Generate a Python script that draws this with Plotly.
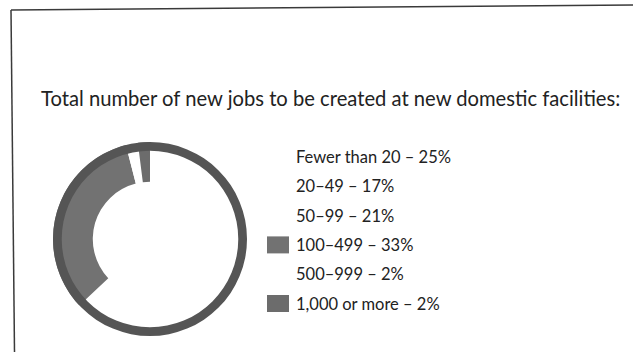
import plotly.graph_objects as go

# Survey breakdown: total number of new jobs at new domestic facilities
categories = ["Fewer than 20", "20–49", "50–99", "100–499", "500–999", "1,000 or more"]
shares = [25, 17, 21, 33, 2, 2]
colors = ["#ffffff", "#ffffff", "#ffffff", "#727272", "#ffffff", "#6c6c6c"]
title_text = "Total number of new jobs to be created at new domestic facilities:"

W, H = 633, 352
FONT = "Lato"
INK = "#222222"

# donut geometry in pixels
cx, cy, r = 150, 239, 97
dom_x = [(cx - r) / W, (cx + r) / W]
dom_y = [(H - cy - r) / H, (H - cy + r) / H]

fig = go.Figure()

fig.add_trace(go.Pie(
    values=shares,
    labels=categories,
    marker=dict(colors=colors, line=dict(width=0)),
    hole=0.59,
    sort=False,
    direction="clockwise",
    rotation=0,
    textinfo="none",
    showlegend=False,
    domain=dict(x=dom_x, y=dom_y),
))

# dark outer rim around the whole donut
fig.add_trace(go.Pie(
    values=[sum(shares)],
    labels=["total"],
    marker=dict(colors=["#555555"], line=dict(width=0)),
    hole=0.91,
    sort=False,
    textinfo="none",
    hoverinfo="skip",
    showlegend=False,
    domain=dict(x=dom_x, y=dom_y),
))

shapes = []
annotations = []

# hand-built legend: swatch + "label – value%"
row0, row_gap = 157, 29.3
for i, (cat, val, col) in enumerate(zip(categories, shares, colors)):
    yc = row0 + i * row_gap
    shapes.append(dict(
        type="rect", xref="paper", yref="paper",
        x0=267 / W, x1=289 / W,
        y0=1 - (yc + 8.5) / H, y1=1 - (yc - 8.5) / H,
        fillcolor=col, line=dict(width=0), layer="above",
    ))
    annotations.append(dict(
        text=f"{cat} – {val}%",
        xref="paper", yref="paper",
        x=294 / W, y=1 - yc / H,
        xanchor="left", yanchor="middle",
        showarrow=False,
        font=dict(family=FONT, size=16.5, color=INK),
    ))

annotations.append(dict(
    text=title_text,
    xref="paper", yref="paper",
    x=39 / W, y=1 - 98 / H,
    xanchor="left", yanchor="middle",
    showarrow=False,
    font=dict(family=FONT, size=20.2, color=INK),
))

# page frame
frame = dict(color="#3a3a3a", width=1.5)
shapes.append(dict(type="line", xref="paper", yref="paper",
                   x0=11 / W, y0=1 - 10 / H, x1=14.5 / W, y1=0, line=frame))
shapes.append(dict(type="line", xref="paper", yref="paper",
                   x0=11 / W, y0=1 - 10 / H, x1=1, y1=1 - 5 / H, line=frame))

fig.update_layout(
    width=W, height=H,
    margin=dict(l=0, r=0, t=0, b=0),
    paper_bgcolor="white",
    plot_bgcolor="white",
    shapes=shapes,
    annotations=annotations,
)

fig.write_html("out.html")
